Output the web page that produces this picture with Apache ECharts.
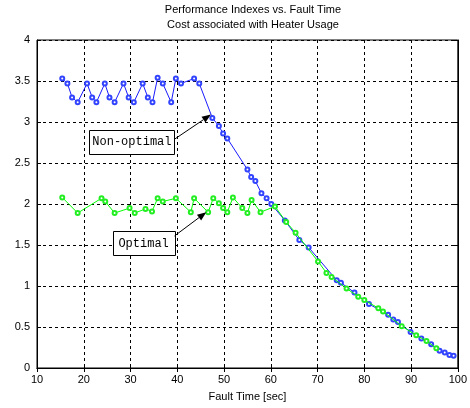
<!DOCTYPE html>
<html>
<head>
<meta charset="utf-8">
<script src="https://cdn.jsdelivr.net/npm/echarts@6/dist/echarts.min.js"></script>
<style>
  html, body { margin: 0; padding: 0; background: #fff; }
  #main { width: 470px; height: 408px; }
</style>
</head>
<body>
<div id="main"></div>
<script>
var titleText = 'Performance Indexes vs. Fault Time\nCost associated with Heater Usage';
var xName = 'Fault Time [sec]';

// non-optimal (blue) samples
var blueX = [15.4, 16.5, 17.5, 18.7, 20.7, 21.8, 22.7, 24.5, 25.5, 26.6, 28.5, 29.6, 30.7,
  32.6, 33.7, 34.7, 35.8, 36.9, 38.7, 39.7, 40.8, 43.6, 44.7, 47.5, 48.9, 49.8, 50.7,
  55.0, 55.8, 56.7, 58.0, 59.1, 60.1, 63.0, 66.1, 68.1, 74.1, 75.0, 77.9, 81.0,
  85.1, 86.2, 87.2, 89.9, 92.2, 94.3, 96.1, 97.2, 98.2, 99.1];
var blueY = [3.53, 3.47, 3.30, 3.24, 3.47, 3.30, 3.24, 3.47, 3.30, 3.24, 3.47, 3.30, 3.24,
  3.47, 3.30, 3.24, 3.54, 3.47, 3.24, 3.53, 3.47, 3.53, 3.47, 3.05, 2.95, 2.86, 2.80,
  2.42, 2.33, 2.28, 2.13, 2.07, 2.00, 1.80, 1.56, 1.47, 1.07, 1.04, 0.92, 0.78,
  0.65, 0.59, 0.56, 0.44, 0.36, 0.29, 0.21, 0.19, 0.16, 0.15];

// optimal (green) samples
var greenX = [15.4, 18.7, 23.8, 24.6, 26.6, 29.8, 30.9, 33.2, 34.6, 35.8, 36.9, 39.7,
  42.9, 43.6, 46.6, 47.7, 48.9, 49.8, 50.7, 51.9, 53.9, 55.0, 55.9, 57.8, 60.9,
  63.3, 65.3, 70.1, 71.9, 73.0, 76.2, 78.7, 80.0, 83.0, 84.0, 88.0, 91.1, 93.3, 95.4];
var greenY = [2.08, 1.89, 2.07, 2.03, 1.89, 1.95, 1.89, 1.94, 1.91, 2.07, 2.03, 2.07,
  1.90, 2.07, 1.90, 2.07, 2.01, 1.95, 1.90, 2.08, 1.95, 1.89, 2.05, 1.90, 1.97,
  1.78, 1.65, 1.30, 1.16, 1.11, 0.97, 0.87, 0.83, 0.73, 0.69, 0.51, 0.40, 0.33, 0.24];

// annotation boxes and arrows, in data units
var notes = [
  { text: 'Non-optimal', box: [30.3, 2.76], w: 85, from: [39.4, 2.79], to: [47.2, 3.09] },
  { text: 'Optimal', box: [32.8, 1.52], w: 62, from: [39.4, 1.61], to: [46.2, 1.90] }
];

function zip(xs, ys) {
  var out = [];
  for (var i = 0; i < xs.length; i++) out.push([xs[i], ys[i]]);
  return out;
}

var monoFont = 'Liberation Mono';
var sansFont = 'Liberation Sans';

var chart = echarts.init(document.getElementById('main'));
var option = {
  animation: false,
  backgroundColor: '#fff',
  title: {
    text: titleText,
    left: 248, top: -3, textAlign: 'center',
    textStyle: { fontFamily: sansFont, fontSize: 11, fontWeight: 'normal', color: '#000', lineHeight: 15 }
  },
  grid: { left: 37, right: 10, top: 40, bottom: 40, show: true, borderColor: '#000', borderWidth: 1 },
  xAxis: [{
    type: 'value', min: 10, max: 100, interval: 10,
    name: xName, nameLocation: 'middle', nameGap: 23,
    nameTextStyle: { fontFamily: sansFont, fontSize: 11, color: '#000' },
    axisLine: { lineStyle: { color: '#000' } },
    axisTick: { inside: true, length: 4, lineStyle: { color: '#000' } },
    axisLabel: { fontFamily: sansFont, fontSize: 11, color: '#000', margin: 6 },
    splitLine: { show: true, lineStyle: { color: '#000', type: [3, 3] } }
  }, {
    type: 'value', min: 10, max: 100, interval: 10, position: 'top',
    axisLine: { lineStyle: { color: '#000' } },
    axisTick: { inside: true, length: 4, lineStyle: { color: '#000' } },
    axisLabel: { show: false }, splitLine: { show: false }
  }],
  yAxis: [{
    type: 'value', min: 0, max: 4, interval: 0.5,
    axisLine: { show: true, lineStyle: { color: '#000' } },
    axisTick: { show: true, inside: true, length: 4, lineStyle: { color: '#000' } },
    axisLabel: { fontFamily: sansFont, fontSize: 11, color: '#000', margin: 7 },
    splitLine: { show: true, lineStyle: { color: '#000', type: [3, 3] } }
  }, {
    type: 'value', min: 0, max: 4, interval: 0.5, position: 'right',
    axisLine: { show: true, lineStyle: { color: '#000' } },
    axisTick: { show: true, inside: true, length: 4, lineStyle: { color: '#000' } },
    axisLabel: { show: false }, splitLine: { show: false }
  }],
  series: [{
    name: 'Non-optimal', type: 'line', data: zip(blueX, blueY),
    symbol: 'emptyCircle', symbolSize: 4,
    lineStyle: { color: '#1a1aff', width: 1 },
    itemStyle: { color: '#3344ff', borderWidth: 1 },
    z: 3
  }, {
    name: 'Optimal', type: 'line', data: zip(greenX, greenY),
    symbol: 'emptyCircle', symbolSize: 4,
    lineStyle: { color: '#00ff00', width: 1 },
    itemStyle: { color: '#22ee22', borderWidth: 1 },
    z: 4
  }]
};
chart.setOption(option);

// text boxes with arrows, placed through the axis scales
var graphics = [];
notes.forEach(function (n) {
  var c = chart.convertToPixel({ gridIndex: 0 }, n.box);
  var p0 = chart.convertToPixel({ gridIndex: 0 }, n.from);
  var p1 = chart.convertToPixel({ gridIndex: 0 }, n.to);
  var ang = Math.atan2(p1[1] - p0[1], p1[0] - p0[0]);
  var hl = 9, hw = 3.5;
  var bx = p1[0] - hl * Math.cos(ang), by = p1[1] - hl * Math.sin(ang);
  graphics.push({
    type: 'rect', z: 10,
    shape: { x: Math.round(c[0] - n.w / 2) + 0.5, y: Math.round(c[1] - 12) + 0.5, width: n.w, height: 24 },
    style: { fill: '#fff', stroke: '#000', lineWidth: 1 }
  });
  graphics.push({
    type: 'text', z: 11, x: c[0], y: c[1],
    style: { text: n.text, fill: '#000', font: '12px "' + monoFont + '"', textAlign: 'center', textVerticalAlign: 'middle' }
  });
  graphics.push({
    type: 'line', z: 10,
    shape: { x1: p0[0], y1: p0[1], x2: bx, y2: by },
    style: { stroke: '#000', lineWidth: 1 }
  });
  graphics.push({
    type: 'polygon', z: 10,
    shape: { points: [
      [p1[0], p1[1]],
      [bx - hw * Math.sin(ang), by + hw * Math.cos(ang)],
      [bx + hw * Math.sin(ang), by - hw * Math.cos(ang)]
    ] },
    style: { fill: '#000' }
  });
});
chart.setOption({ graphic: graphics });
</script>
</body>
</html>
